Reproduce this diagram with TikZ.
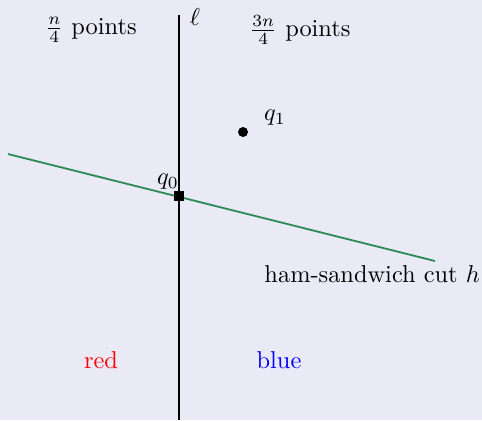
\documentclass[tikz,border=0pt]{standalone}
\definecolor{bgc}{RGB}{234,234,246}
\definecolor{cutgreen}{RGB}{46,139,87}
\begin{document}
\begin{tikzpicture}[x=0.41pt,y=-0.41pt,
  lbl/.style={inner sep=0pt},
  ptdot/.style={circle,fill=black,inner sep=0pt,minimum size=4.1pt},
  ptsq/.style={rectangle,fill=black,inner sep=0pt,minimum size=4pt}]
\fill[bgc] (0,0) rectangle (482,420);
\useasboundingbox (0,0) rectangle (482,420);
\coordinate (ltop) at (179,15);
\coordinate (lbot) at (179,420);
\draw[line width=0.85pt] (ltop) -- (lbot);
\node[lbl] (ell) at (195,17) {$\ell$};
\coordinate (ha) at (8,154);
\coordinate (hb) at (435,261);
\draw[cutgreen,line width=0.75pt] (ha) -- (hb);
\node[ptsq] (q0) at (179,196) {};
\node[lbl] (q0l) at (168,182) {$q_0$};
\node[ptdot] (q1) at (243,132) {};
\node[lbl] (q1l) at (275,118) {$q_1$};
\node[lbl] (left) at (91,30) {$\frac{n}{4}$ points};
\node[lbl] (right) at (300,30) {$\frac{3n}{4}$ points};
\node[lbl,anchor=west] (cut) at (264,274) {ham-sandwich cut $h$};
\node[lbl,text=red] (red) at (101,360) {red};
\node[lbl,text=blue] (blue) at (279,360) {blue};
\end{tikzpicture}
\end{document}
